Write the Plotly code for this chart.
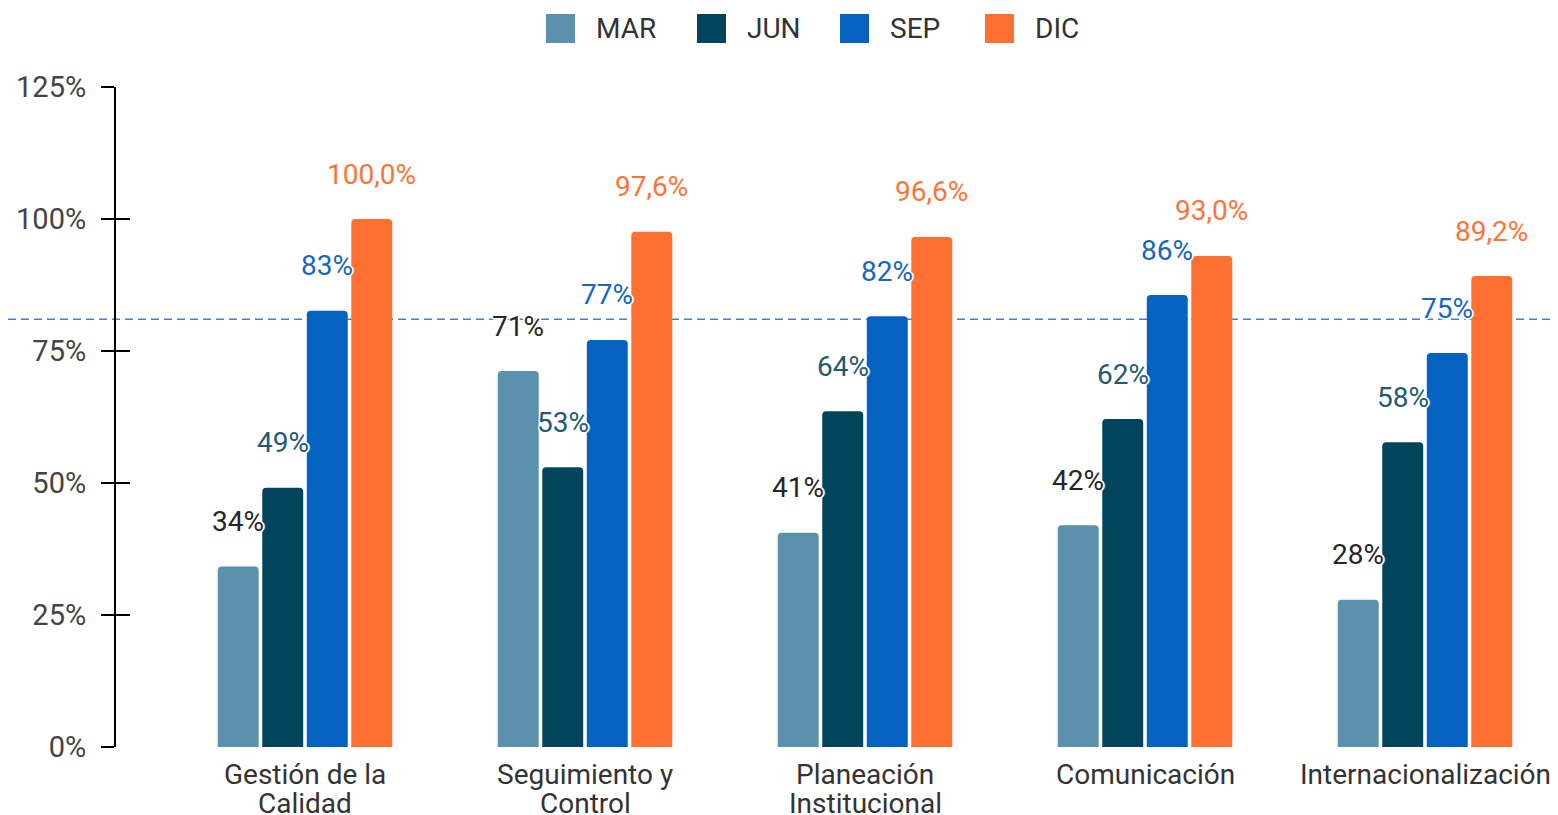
import plotly.graph_objects as go

categories = ["Gestión de la Calidad", "Seguimiento y Control", "Planeación Institucional",
              "Comunicación", "Internacionalización"]
cat_line1 = ["Gestión de la", "Seguimiento y", "Planeación", "Comunicación", "Internacionalización"]
cat_line2 = ["Calidad", "Control", "Institucional", "", ""]
series_names = ["MAR", "JUN", "SEP", "DIC"]
mar = [34.2, 71.2, 40.6, 42.0, 27.9]
jun = [49.1, 53.0, 63.6, 62.1, 57.7]
sep = [82.6, 77.1, 81.6, 85.6, 74.6]
dic = [100.0, 97.6, 96.6, 93.0, 89.2]
target = 81
y_ticks = [0, 25, 50, 75, 100, 125]
y_ticktext = [f"{v}%" for v in y_ticks]

values = [mar, jun, sep, dic]
bar_colors = ["#5a91ad", "#03445d", "#0662c1", "#ff6f31"]
label_colors = ["#262626", "#245a70", "#1666c2", "#ff7436"]
label_fmt = [".0f", ".0f", ".0f", ".1f"]

# page has an 8px body margin: place the figure so it lines up with the 1558x815 window
OFF = 8
W, H = 1558 - 2 * OFF, 815 - OFF
L, R, T, B = 116 - OFF, 0, 87 - OFF, (H + OFF) - 747
PW, PH = W - L - R, H - T - B
BARGAP = 0.364
CAT_PX = 280.0
X_RANGE = [-0.675, -0.675 + PW / CAT_PX]
slot_px = CAT_PX * (1 - BARGAP) / len(series_names)

FONT = "Roboto, Arial, sans-serif"
SHADOW = "1px 1px 0px #fff, -1px -1px 0px #fff, 1px -1px 0px #fff, -1px 1px 0px #fff, 0px 2px 1px #fff, 2px 0px 1px #fff"

fig = go.Figure()
for name, vals, col in zip(series_names, values, bar_colors):
    fig.add_trace(go.Bar(name=name, x=categories, y=vals, marker_color=col,
                         marker_line_width=0, showlegend=False))
fig.add_trace(go.Scatter(x=[], y=[], yaxis="y2", showlegend=False))

annotations = []
for i, (vals, col, fmt) in enumerate(zip(values, label_colors, label_fmt)):
    for c, v in zip(categories, vals):
        txt = format(v, fmt).replace(".", ",") + "%"
        annotations.append(dict(x=c, y=v, xref="x", yref="y", text=txt, showarrow=False,
                                xshift=(i - 1.5) * slot_px, yshift=45, yanchor="middle",
                                font=dict(family=FONT, size=28, color=col, shadow=SHADOW)))

# category labels (two lines, tight spacing)
for c, l1, l2 in zip(categories, cat_line1, cat_line2):
    for txt, ys in ((l1, -9), (l2, -38)):
        if txt:
            annotations.append(dict(x=c, y=0, xref="x", yref="y", text=txt, showarrow=False,
                                    yanchor="top", yshift=ys,
                                    font=dict(family=FONT, size=28, color="#333333")))

def px2x(px):
    return (px - OFF - L) / PW

def py2y(py):
    return (H - B - (py - OFF)) / PH

# manual legend
shapes = []
leg_left = [546, 697, 840, 985]
for name, col, lx in zip(series_names, bar_colors, leg_left):
    shapes.append(dict(type="rect", xref="paper", yref="paper", x0=px2x(lx), x1=px2x(lx + 29),
                       y0=py2y(43), y1=py2y(14), fillcolor=col, line=dict(width=0)))
    annotations.append(dict(x=px2x(lx + 48), y=py2y(28.5), xref="paper", yref="paper",
                            text=name, showarrow=False, xanchor="left", yanchor="middle",
                            font=dict(family=FONT, size=28, color="#333333")))

shapes.append(dict(type="line", xref="paper", yref="y", x0=px2x(OFF), x1=1, y0=target, y1=target,
                   line=dict(color="#4a7fc4", width=1.5, dash="8px,5px"), layer="below"))

fig.update_layout(
    width=W, height=H, margin=dict(l=L, r=R, t=T, b=B, pad=0),
    paper_bgcolor="white", plot_bgcolor="white",
    barmode="group", bargap=BARGAP, bargroupgap=0.08, barcornerradius=4,
    font=dict(family=FONT, size=28, color="#333333"),
    xaxis=dict(range=X_RANGE, showgrid=False, zeroline=False, showline=False, ticks="",
               showticklabels=False),
    yaxis=dict(range=[0, 125], tickmode="array", tickvals=y_ticks, ticktext=y_ticktext,
               showgrid=False, zeroline=False,
               showline=True, linecolor="black", linewidth=2, ticks="outside", ticklen=13,
               tickwidth=2, tickcolor="black", ticklabelstandoff=9,
               tickfont=dict(size=29, color="#444444")),
    yaxis2=dict(range=[0, 125], overlaying="y", side="left", anchor="x", tickmode="array",
                tickvals=y_ticks, showticklabels=False, ticks="inside", ticklen=14, tickwidth=2,
                tickcolor="black", showgrid=False, zeroline=False, showline=False),
    shapes=shapes, annotations=annotations, showlegend=False,
)

fig.write_html("out.html")
